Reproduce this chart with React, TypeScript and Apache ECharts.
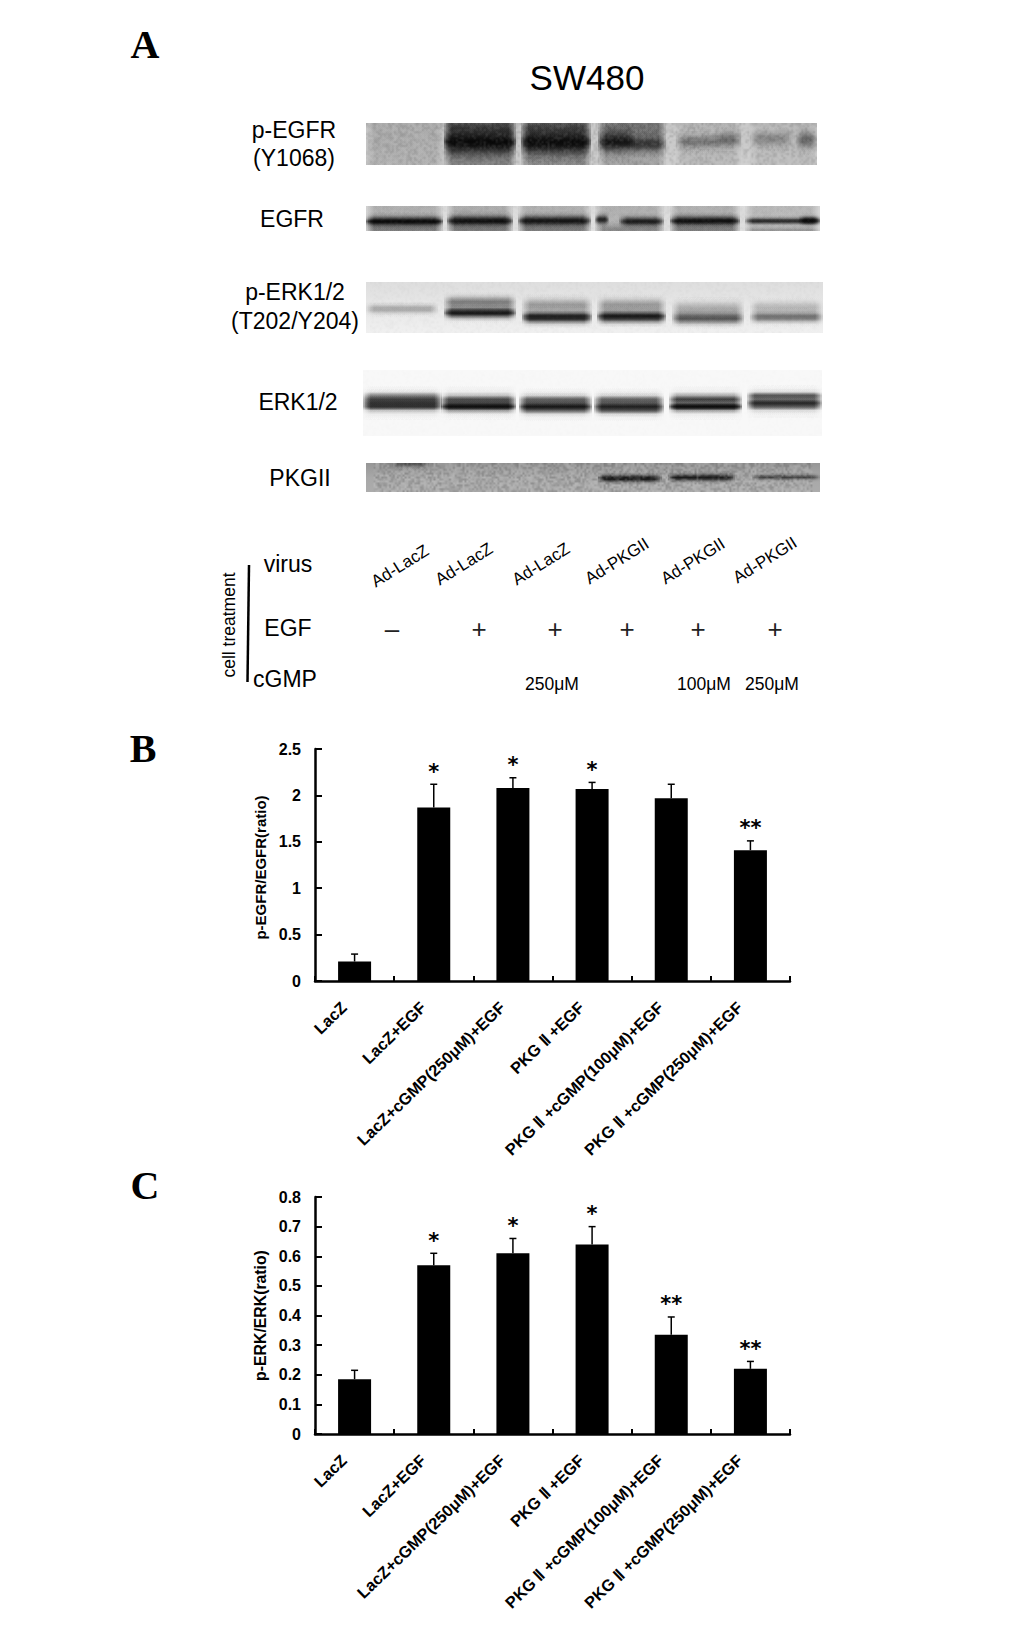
import React, { useEffect, useRef } from "react";
import * as echarts from "echarts";

const categories = [
  "LacZ",
  "LacZ+EGF",
  "LacZ+cGMP(250μM)+EGF",
  "PKG Ⅱ +EGF",
  "PKG Ⅱ +cGMP(100μM)+EGF",
  "PKG Ⅱ +cGMP(250μM)+EGF",
];
const egfrValues = [0.21, 1.87, 2.08, 2.07, 1.97, 1.41];
const egfrErrorTops = [0.29, 2.12, 2.19, 2.14, 2.12, 1.51];
const egfrStars = ["", "*", "*", "*", "", "**"];
const erkValues = [0.185, 0.57, 0.61, 0.64, 0.335, 0.22];
const erkErrorTops = [0.215, 0.61, 0.66, 0.7, 0.395, 0.245];
const erkStars = ["", "*", "*", "*", "**", "**"];

const virusLabels = ["Ad-LacZ", "Ad-LacZ", "Ad-LacZ", "Ad-PKGII", "Ad-PKGII", "Ad-PKGII"];
const egfLabels = ["–", "+", "+", "+", "+", "+"];
const cgmpLabels = ["250μM", "100μM", "250μM"];

const SANS = '"Liberation Sans", Arial, sans-serif';
const SERIF = '"Liberation Serif", "Times New Roman", serif';

// Blot bands per lane: [centre (0-1 of strip height), sigma, darkness 0-1, from, to (0-1 of lane width)]
type Band = [number, number, number, number?, number?];
type Blot = { x0: number; x1: number; y0: number; y1: number; stops: number[]; noise: number; lanes: [number, number][]; bands: Band[][] };
const blots: Blot[] = [
  {
    x0: 366, x1: 817, y0: 123, y1: 165, stops: [198, 200, 205], noise: 0.11,
    lanes: [[362, 444], [444, 516], [521, 591], [598, 666], [676, 741], [750, 821]],
    bands: [
      [[0.5, 9, 0.14]],
      [[0.5, 9, 0.36], [0.12, 0.18, 0.5], [0.46, 0.2, 0.98]],
      [[0.5, 9, 0.32], [0.12, 0.18, 0.45], [0.46, 0.2, 0.96]],
      [[0.5, 9, 0.22], [0.12, 0.18, 0.3], [0.45, 0.16, 0.9, 0, 0.55], [0.5, 0.13, 0.68, 0.45, 1]],
      [[0.5, 9, 0.1], [0.45, 0.1, 0.38, 0, 0.7], [0.4, 0.11, 0.45, 0.6, 1]],
      [[0.5, 9, 0.08], [0.38, 0.11, 0.28, 0, 0.6], [0.4, 0.13, 0.46, 0.65, 1]],
    ],
  },
  {
    x0: 366, x1: 820, y0: 206, y1: 231, stops: [218, 222, 224], noise: 0.04,
    lanes: [[364, 443], [447, 513], [518, 591], [595, 664], [670, 740], [745, 822]],
    bands: [
      [[0.5, 9, 0.2], [0.62, 0.13, 0.98], [0.95, 0.14, 0.3]],
      [[0.5, 9, 0.22], [0.6, 0.14, 0.95], [0.95, 0.14, 0.3]],
      [[0.5, 9, 0.2], [0.6, 0.14, 0.92], [0.95, 0.14, 0.3]],
      [[0.5, 9, 0.2], [0.55, 0.12, 0.85, 0, 0.2], [0.62, 0.12, 0.88, 0.35, 1], [0.95, 0.14, 0.25]],
      [[0.5, 9, 0.2], [0.6, 0.13, 0.95], [0.95, 0.14, 0.3]],
      [[0.5, 9, 0.16], [0.6, 0.08, 0.82], [0.58, 0.1, 0.88, 0.7, 1], [0.98, 0.08, 0.22]],
    ],
  },
  {
    x0: 366, x1: 823, y0: 282, y1: 333, stops: [222, 232, 240], noise: 0.025,
    lanes: [[366, 438], [444, 516], [522, 592], [597, 666], [672, 744], [750, 823]],
    bands: [
      [[0.53, 0.055, 0.3]],
      [[0.4, 0.07, 0.48], [0.6, 0.065, 0.94]],
      [[0.46, 0.08, 0.35], [0.69, 0.07, 0.94]],
      [[0.46, 0.08, 0.36], [0.68, 0.07, 0.94]],
      [[0.53, 0.09, 0.27], [0.71, 0.07, 0.66]],
      [[0.51, 0.08, 0.22], [0.69, 0.06, 0.56]],
    ],
  },
  {
    x0: 363, x1: 822, y0: 370, y1: 436, stops: [248, 248, 248], noise: 0.01,
    lanes: [[362, 442], [441, 516], [519, 592], [594, 664], [669, 742], [747, 822]],
    bands: [
      [[0.5, 0.1, 0.22], [0.43, 0.04, 0.72], [0.53, 0.04, 0.96]],
      [[0.5, 0.1, 0.22], [0.46, 0.04, 0.68], [0.55, 0.04, 0.96]],
      [[0.52, 0.1, 0.22], [0.47, 0.04, 0.68], [0.57, 0.04, 0.96]],
      [[0.52, 0.1, 0.22], [0.47, 0.04, 0.66], [0.575, 0.04, 0.96]],
      [[0.5, 0.1, 0.22], [0.44, 0.035, 0.7], [0.55, 0.038, 0.97]],
      [[0.48, 0.1, 0.22], [0.41, 0.032, 0.78], [0.52, 0.035, 0.97]],
    ],
  },
  {
    x0: 366, x1: 820, y0: 463, y1: 492, stops: [150, 168, 172], noise: 0.16,
    lanes: [[366, 440], [446, 516], [522, 590], [598, 662], [668, 735], [752, 820]],
    bands: [
      [[0.02, 0.08, 0.45, 0.35, 0.85]],
      [],
      [],
      [[0.53, 0.08, 0.92]],
      [[0.5, 0.08, 0.85]],
      [[0.49, 0.055, 0.6]],
    ],
  },
];

const grey = (v: number) => `rgb(${v},${v},${v})`;

// A fixed, repeatable film-grain texture for the blot strips.
function grainImage(w: number, h: number, seed: number, strength: number) {
  const canvas = document.createElement("canvas");
  canvas.width = w;
  canvas.height = h;
  const ctx = canvas.getContext("2d")!;
  const img = ctx.createImageData(w, h);
  let s = seed >>> 0;
  for (let i = 0; i < w * h; i++) {
    s = (Math.imul(s, 1664525) + 1013904223) >>> 0;
    const v = (s >>> 16) & 255;
    const c = v > 127 ? 255 : 0;
    img.data[i * 4] = c;
    img.data[i * 4 + 1] = c;
    img.data[i * 4 + 2] = c;
    img.data[i * 4 + 3] = Math.round((Math.abs(v - 127.5) / 127.5) * strength * 255);
  }
  ctx.putImageData(img, 0, 0);
  return canvas.toDataURL("image/png");
}

function blotElements() {
  const out: any[] = [];
  const layers = 5;
  blots.forEach((b, bi) => {
    const h = b.y1 - b.y0;
    const w = b.x1 - b.x0;
    out.push({
      type: "rect",
      shape: { x: b.x0, y: b.y0, width: w, height: h },
      style: {
        fill: new echarts.graphic.LinearGradient(0, 0, 0, 1, [
          { offset: 0, color: grey(b.stops[0]) },
          { offset: 0.5, color: grey(b.stops[1]) },
          { offset: 1, color: grey(b.stops[2]) },
        ]),
      },
    });
    b.lanes.forEach(([l, r], i) => {
      const laneW = r - l;
      b.bands[i].forEach(([c, sigma, d, from = 0, to = 1]) => {
        const full0 = Math.max(l + laneW * from, b.x0);
        const full1 = Math.min(l + laneW * to, b.x1);
        const soft = Math.min(9, (full1 - full0) / 3);
        for (let k = 0; k < layers; k++) {
          const inset = (soft * k) / layers;
          const stops: any[] = [];
          const steps = 18;
          for (let s = 0; s <= steps; s++) {
            const t = s / steps;
            const amount = d * Math.exp(-((t - c) * (t - c)) / (2 * sigma * sigma));
            const a = 1 - Math.pow(1 - Math.min(amount, 0.985), 1 / layers);
            stops.push({ offset: t, color: `rgba(6,6,6,${a.toFixed(4)})` });
          }
          out.push({
            type: "rect",
            shape: { x: full0 + inset, y: b.y0, width: full1 - full0 - 2 * inset, height: h },
            style: { fill: new echarts.graphic.LinearGradient(0, 0, 0, 1, stops) },
          });
        }
      });
    });
    const gw = Math.round(w / 2);
    const gh = Math.round(h / 2);
    out.push({
      type: "image",
      style: { image: grainImage(gw, gh, 97 + bi * 31, b.noise), x: b.x0, y: b.y0, width: w, height: h },
    });
  });
  return out;
}

function label(text: string, x: number, y: number, size: number, extra: any = {}, rotation = 0) {
  return {
    type: "text",
    x,
    y,
    rotation,
    style: {
      text,
      fill: extra.fill || "#000",
      font: `${extra.weight || "normal"} ${size}px ${extra.family || SANS}`,
      align: extra.align || "center",
      verticalAlign: "middle",
      textAlign: extra.align || "center",
      textVerticalAlign: "middle",
    },
  };
}

const virusPos = [[400, 566], [464, 564], [541, 564], [617, 561], [693, 561], [765, 560]];
const egfX = [392, 479, 555, 627, 698, 775];
const cgmpX = [552, 704, 772];

function panelA() {
  return [
    ...blotElements(),
    label("A", 145, 44, 40, { weight: "bold", family: SERIF }),
    label("B", 143, 748, 40, { weight: "bold", family: SERIF }),
    label("C", 145, 1185, 40, { weight: "bold", family: SERIF }),
    label("SW480", 587, 77, 35),
    label("p-EGFR", 294, 130, 23),
    label("(Y1068)", 294, 158, 23),
    label("EGFR", 292, 219, 23),
    label("p-ERK1/2", 295, 292, 23),
    label("(T202/Y204)", 295, 321, 23),
    label("ERK1/2", 298, 402, 23),
    label("PKGII", 300, 478, 23),
    label("virus", 288, 564, 23),
    label("EGF", 288, 628, 23),
    label("cGMP", 285, 679, 23),
    label("cell treatment", 229, 625, 17.5, {}, Math.PI / 2),
    {
      type: "line",
      shape: { x1: 249, y1: 565, x2: 247.5, y2: 682 },
      style: { stroke: "#000", lineWidth: 2.5 },
    },
    ...virusLabels.map((t, i) => label(t, virusPos[i][0], virusPos[i][1], 17, {}, (32 * Math.PI) / 180)),
    ...egfLabels.map((t, i) => label(t, egfX[i], 629, 26, { fill: "#222" })),
    ...cgmpLabels.map((t, i) => label(t, cgmpX[i], 684, 17.5)),
  ];
}

const errorSeries = (xAxisIndex: number, yAxisIndex: number, tops: number[], values: number[], stars: string[], starOffset: number) => ({
  type: "custom",
  xAxisIndex,
  yAxisIndex,
  silent: true,
  z: 5,
  data: tops.map((t, i) => [i, values[i], t, stars[i]]),
  renderItem: (params: any, api: any) => {
    const i = api.value(0);
    const base = api.coord([i, api.value(1)]);
    const top = api.coord([i, api.value(2)]);
    const star = stars[params.dataIndex];
    const style = { stroke: "#000", lineWidth: 1.5 };
    const children: any[] = [
      { type: "line", shape: { x1: base[0], y1: base[1], x2: base[0], y2: top[1] }, style },
      { type: "line", shape: { x1: base[0] - 3.5, y1: top[1], x2: base[0] + 3.5, y2: top[1] }, style },
    ];
    if (star) {
      children.push({
        type: "text",
        x: base[0],
        y: top[1] - starOffset,
        style: {
          text: star,
          fill: "#000",
          font: `bold 21px "DejaVu Sans", ${SANS}`,
          align: "center",
          verticalAlign: "middle",
          textAlign: "center",
          textVerticalAlign: "middle",
        },
      });
    }
    return { type: "group", children };
  },
});

const axisLine = { show: true, onZero: false, lineStyle: { color: "#000", width: 2.5 } };
const xAxis = (gridIndex: number) => ({
  type: "category",
  gridIndex,
  data: categories,
  axisLine,
  axisTick: { show: true, inside: true, length: 5, alignWithLabel: false, lineStyle: { color: "#000", width: 2 } },
  axisLabel: { interval: 0, rotate: 44, margin: 13, padding: [0, 15, 0, 0], color: "#000", fontFamily: SANS, fontWeight: "bold", fontSize: 16.3 },
  splitLine: { show: false },
});
const yAxis = (gridIndex: number, max: number, interval: number, name: string, nameSize: number, namePadding: number[]) => ({
  type: "value",
  gridIndex,
  min: 0,
  max,
  interval,
  name,
  nameLocation: "middle",
  nameRotate: 90,
  nameGap: 47,
  nameTextStyle: { color: "#000", fontFamily: SANS, fontWeight: "bold", fontSize: nameSize, padding: namePadding },
  axisLine,
  axisTick: { show: true, inside: true, length: 7, lineStyle: { color: "#000", width: 2 } },
  axisLabel: { margin: 14, color: "#000", fontFamily: SANS, fontWeight: "bold", fontSize: 16 },
  splitLine: { show: false },
});

export default function App() {
  const ref = useRef<HTMLDivElement>(null);
  useEffect(() => {
    document.body.style.margin = "0";
    document.body.style.background = "#fff";
    const chart = echarts.init(ref.current!, undefined, { renderer: "svg" });
    chart.setOption({
      animation: false,
      backgroundColor: "#fff",
      grid: [
        { left: 315, width: 475, top: 749, height: 232 },
        { left: 315, width: 475, top: 1197, height: 237 },
      ],
      xAxis: [xAxis(0), xAxis(1)],
      yAxis: [
        yAxis(0, 2.5, 0.5, "p-EGFR/EGFR(ratio)", 15, [0, 5, 0, 0]),
        yAxis(1, 0.8, 0.1, "p-ERK/ERK(ratio)", 15.8, [0, 0, 0, 0]),
      ],
      series: [
        { type: "bar", xAxisIndex: 0, yAxisIndex: 0, data: egfrValues, barWidth: 33, itemStyle: { color: "#000" } },
        { type: "bar", xAxisIndex: 1, yAxisIndex: 1, data: erkValues, barWidth: 33, itemStyle: { color: "#000" } },
        errorSeries(0, 0, egfrErrorTops, egfrValues, egfrStars, 12.5),
        errorSeries(1, 1, erkErrorTops, erkValues, erkStars, 12.5),
      ],
      graphic: { elements: panelA() },
    });
    return () => chart.dispose();
  }, []);
  return <div ref={ref} style={{ width: 1033, height: 1625 }} />;
}
